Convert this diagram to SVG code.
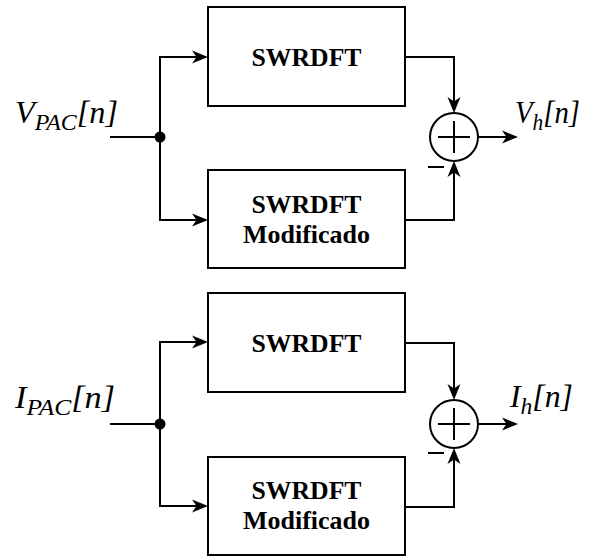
<svg xmlns="http://www.w3.org/2000/svg" width="589" height="556" viewBox="0 0 589 556">
  <style>
    text { font-family: "Liberation Serif", "DejaVu Serif", "Times New Roman", serif; fill: #000; }
    .box { fill: #fff; stroke: #000; stroke-width: 2; }
    .wire { fill: none; stroke: #000; stroke-width: 2; }
    .head { fill: #000; stroke: none; }
    .sum { fill: #fff; stroke: #000; stroke-width: 2; }
    .lbl { font-weight: bold; font-size: 26px; text-anchor: middle; }
    .sig { font-style: italic; font-size: 31px; }
    .sub { font-size: 23px; }
  </style>
  <defs>
    <!-- notched arrowhead, tip at the origin pointing to +x -->
    <path id="tip" d="M0,0 L-16,-6.5 L-11.5,0 L-16,6.5 Z"/>
  </defs>

  <!-- voltage path: two transforms feeding a subtractor -->
  <g id="v-filter">
    <rect class="box" x="208" y="7" width="197" height="99"/>
    <text class="lbl" x="306.5" y="66" textLength="110" lengthAdjust="spacingAndGlyphs">SWRDFT</text>
  </g>
  <g id="v-filter-mod">
    <rect class="box" x="208" y="170" width="197" height="98"/>
    <text class="lbl" x="306.5" y="213" textLength="110" lengthAdjust="spacingAndGlyphs">SWRDFT</text>
    <text class="lbl" x="306.5" y="243" textLength="127" lengthAdjust="spacingAndGlyphs">Modificado</text>
  </g>
  <g id="v-sum">
    <circle class="sum" cx="454" cy="137" r="24"/>
    <path class="wire" d="M438,137 H470 M454,121 V153"/>
    <path class="wire" d="M428,167 H444"/>
  </g>
  <g id="v-in">
    <text class="sig" x="15" y="123" textLength="103" lengthAdjust="spacingAndGlyphs">V<tspan class="sub" dy="7">PAC</tspan><tspan dy="-7">[n]</tspan></text>
  </g>
  <g id="v-out">
    <text class="sig" x="515" y="123" textLength="65" lengthAdjust="spacingAndGlyphs">V<tspan class="sub" dy="7">h</tspan><tspan dy="-7">[n]</tspan></text>
  </g>

  <!-- current path -->
  <g id="i-filter">
    <rect class="box" x="208" y="293" width="197" height="99"/>
    <text class="lbl" x="306.5" y="352" textLength="110" lengthAdjust="spacingAndGlyphs">SWRDFT</text>
  </g>
  <g id="i-filter-mod">
    <rect class="box" x="208" y="457" width="197" height="98"/>
    <text class="lbl" x="306.5" y="499" textLength="110" lengthAdjust="spacingAndGlyphs">SWRDFT</text>
    <text class="lbl" x="306.5" y="529" textLength="127" lengthAdjust="spacingAndGlyphs">Modificado</text>
  </g>
  <g id="i-sum">
    <circle class="sum" cx="454" cy="424" r="24"/>
    <path class="wire" d="M438,424 H470 M454,408 V440"/>
    <path class="wire" d="M428,453 H444"/>
  </g>
  <g id="i-in">
    <text class="sig" x="15" y="408" textLength="100" lengthAdjust="spacingAndGlyphs">I<tspan class="sub" dy="7">PAC</tspan><tspan dy="-7">[n]</tspan></text>
  </g>
  <g id="i-out">
    <text class="sig" x="510" y="407" textLength="63" lengthAdjust="spacingAndGlyphs">I<tspan class="sub" dy="7">h</tspan><tspan dy="-7">[n]</tspan></text>
  </g>

  <g id="connectors">
    <!-- voltage -->
    <path class="wire" d="M110,137 H160"/>
    <circle cx="160" cy="137" r="5.5" fill="#000"/>
    <path class="wire" d="M160,137 V57 H198"/>
    <use href="#tip" class="head" transform="translate(208,57)"/>
    <path class="wire" d="M160,137 V220 H198"/>
    <use href="#tip" class="head" transform="translate(208,220)"/>
    <path class="wire" d="M405,57 H454 V103"/>
    <use href="#tip" class="head" transform="translate(454,113) rotate(90)"/>
    <path class="wire" d="M405,220 H454 V171"/>
    <use href="#tip" class="head" transform="translate(454,161) rotate(-90)"/>
    <path class="wire" d="M478,137 H508"/>
    <use href="#tip" class="head" transform="translate(518,137)"/>
    <!-- current -->
    <path class="wire" d="M110,424 H160"/>
    <circle cx="160" cy="424" r="5.5" fill="#000"/>
    <path class="wire" d="M160,424 V342 H198"/>
    <use href="#tip" class="head" transform="translate(208,342)"/>
    <path class="wire" d="M160,424 V506 H198"/>
    <use href="#tip" class="head" transform="translate(208,506)"/>
    <path class="wire" d="M405,343 H454 V390"/>
    <use href="#tip" class="head" transform="translate(454,400) rotate(90)"/>
    <path class="wire" d="M405,507 H454 V458"/>
    <use href="#tip" class="head" transform="translate(454,448) rotate(-90)"/>
    <path class="wire" d="M478,424 H508"/>
    <use href="#tip" class="head" transform="translate(518,424)"/>
  </g>
</svg>
